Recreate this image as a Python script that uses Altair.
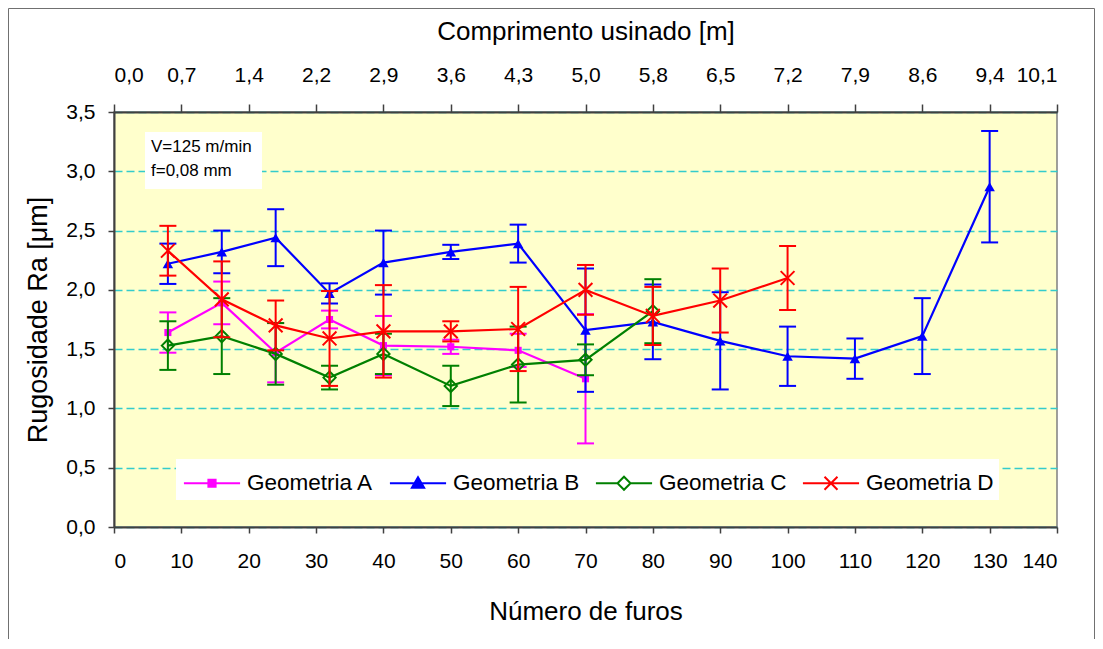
import altair as alt
import pandas as pd

# ---------------- data ----------------
series_names = ["Geometria A", "Geometria B", "Geometria C", "Geometria D"]
colors = ["#FF00FF", "#0000FF", "#008000", "#FF0000"]

furos_A = [8, 16, 24, 32, 40, 50, 60, 70]
ra_A = [1.64, 1.89, 1.47, 1.75, 1.53, 1.52, 1.49, 1.25]
sd_A = [0.17, 0.18, 0.25, 0.075, 0.25, 0.06, 0.14, 0.545]

furos_B = [8, 16, 24, 32, 40, 50, 60, 70, 80, 90, 100, 110, 120, 130]
ra_B = [2.22, 2.32, 2.44, 1.97, 2.23, 2.32, 2.39, 1.66, 1.73, 1.57, 1.44, 1.42, 1.61, 2.87]
sd_B = [0.17, 0.18, 0.24, 0.085, 0.27, 0.06, 0.16, 0.52, 0.315, 0.41, 0.25, 0.17, 0.32, 0.47]

furos_C = [8, 16, 24, 32, 40, 50, 60, 70, 80]
ra_C = [1.53, 1.61, 1.46, 1.26, 1.46, 1.19, 1.37, 1.41, 1.82]
sd_C = [0.205, 0.32, 0.26, 0.10, 0.17, 0.17, 0.32, 0.13, 0.27]

furos_D = [8, 16, 24, 32, 40, 50, 60, 70, 80, 90, 100]
ra_D = [2.33, 1.92, 1.70, 1.59, 1.65, 1.65, 1.67, 2.00, 1.78, 1.91, 2.10]
sd_D = [0.21, 0.32, 0.21, 0.40, 0.39, 0.085, 0.355, 0.21, 0.245, 0.27, 0.27]

x_ticks = [0, 10, 20, 30, 40, 50, 60, 70, 80, 90, 100, 110, 120, 130, 140]
y_ticks = [0.0, 0.5, 1.0, 1.5, 2.0, 2.5, 3.0, 3.5]
top_labels = ["0,0", "0,7", "1,4", "2,2", "2,9", "3,6", "4,3", "5,0",
              "5,8", "6,5", "7,2", "7,9", "8,6", "9,4", "10,1"]
notes = ["V=125 m/min", "f=0,08 mm"]

# ---------------- table ----------------
rows = []
for name, xs, ys, sds in zip(series_names,
                             [furos_A, furos_B, furos_C, furos_D],
                             [ra_A, ra_B, ra_C, ra_D],
                             [sd_A, sd_B, sd_C, sd_D]):
    for xv, yv, sv in zip(xs, ys, sds):
        rows.append({"serie": name, "furos": xv, "ra": yv, "sd": sv})
df = pd.DataFrame(rows)

# ---------------- styles ----------------
W, H = 943, 415
FONT = "Liberation Sans"
AXIS_COLOR = "#404040"

marker_styles = {
    "Geometria A": dict(shape="square", size=50, filled=True),
    "Geometria B": dict(shape="triangle-up", size=110, filled=True),
    "Geometria C": dict(shape="diamond", size=150, filled=False),
    "Geometria D": dict(shape="M-1,-1L1,1M-1,1L1,-1", size=190, filled=False),
}
# legend glyphs: a line segment with the marker (unit = 18 px for symbolSize 1296)
legend_paths = [
    "M-1.56,0L1.56,0M-0.2,-0.2L0.2,-0.2L0.2,0.2L-0.2,0.2Z",
    "M-1.56,0L1.56,0M0,-0.34L0.34,0.25L-0.34,0.25Z",
    "M-1.56,0L-0.36,0M0.36,0L1.56,0M-0.36,0L0,-0.36L0.36,0L0,0.36Z",
    "M-1.56,0L1.56,0M-0.36,-0.36L0.36,0.36M-0.36,0.36L0.36,-0.36",
]
legend_fills = ["#FF00FF", "#0000FF", "white", "#FF0000"]

x_scale = alt.Scale(domain=[0, 140], nice=False, zero=False)
y_scale = alt.Scale(domain=[0, 3.5], nice=False, zero=False)

top_expr = "[" + ",".join("'%s'" % s for s in top_labels) + "][round(datum.value/10)]"

bottom_axis = alt.Axis(orient="bottom", values=x_ticks, format="d", title="Número de furos",
                       tickSize=6, labelPadding=17, titlePadding=27, grid=False)
top_axis = alt.Axis(orient="top", values=x_ticks, labelExpr=top_expr,
                    title="Comprimento usinado [m]", tickSize=8, labelPadding=19,
                    titlePadding=20, grid=False)
left_axis = alt.Axis(orient="left", values=y_ticks,
                     labelExpr="replace(format(datum.value, '.1f'), '.', ',')",
                     title="Rugosidade Ra [μm]", tickSize=6, labelPadding=13, titlePadding=13,
                     titleFontSize=27,
                     grid=True, gridColor="#33CCCC", gridDash=[8, 4], gridWidth=1.3)

base = alt.Chart(df).transform_calculate(lo="datum.ra - datum.sd", hi="datum.ra + datum.sd")

layers = []

# axes layer: invisible points carrying the bottom, left and top axes
axes_layer = alt.Chart(df).mark_point(opacity=0).encode(
    x=alt.X("furos:Q", scale=x_scale, axis=bottom_axis),
    y=alt.Y("ra:Q", scale=y_scale, axis=left_axis))
top_layer = alt.Chart(df).mark_point(opacity=0).encode(
    x=alt.X("furos:Q", scale=x_scale, axis=top_axis),
    y=alt.Y("ra:Q", scale=y_scale, axis=None))
layers += [axes_layer, top_layer]

# decoration: outer frame and note box
deco = alt.Chart(pd.DataFrame({"k": [0]}))
layers.append(deco.mark_rect(fill=None, stroke="#707070", strokeWidth=1).encode(
    x=alt.value(-105.5), x2=alt.value(980.5), y=alt.value(-103.5), y2=alt.value(H + 140)))
layers.append(deco.mark_rect(fill="white").encode(
    x=alt.value(31), x2=alt.value(148), y=alt.value(20), y2=alt.value(77)))
layers.append(deco.mark_text(text=notes, align="left", baseline="alphabetic", font=FONT,
                             fontSize=17, lineHeight=24, color="black").encode(
    x=alt.value(37), y=alt.value(40)))

for name, col in zip(series_names, colors):
    sub = base.transform_filter(alt.datum.serie == name)
    st = marker_styles[name]
    rule = sub.mark_rule(color=col, strokeWidth=2).encode(
        x=alt.X("furos:Q", scale=x_scale, axis=None),
        y=alt.Y("lo:Q", scale=y_scale, axis=None),
        y2="hi:Q")
    caps = sub.transform_fold(["lo", "hi"], as_=["k", "v"]).mark_tick(
        color=col, orient="horizontal", size=17, thickness=2, opacity=1).encode(
        x=alt.X("furos:Q", scale=x_scale, axis=None),
        y=alt.Y("v:Q", scale=y_scale, axis=None))
    line = sub.mark_line(color=col, strokeWidth=2.2).encode(
        x=alt.X("furos:Q", scale=x_scale, axis=None),
        y=alt.Y("ra:Q", scale=y_scale, axis=None),
        order="furos:Q")
    pts = sub.mark_point(shape=st["shape"], size=st["size"], filled=st["filled"],
                         color=col, strokeWidth=2, opacity=1).encode(
        x=alt.X("furos:Q", scale=x_scale, axis=None),
        y=alt.Y("ra:Q", scale=y_scale, axis=None))
    layers += [rule, caps, line, pts]

# legend layer (no visible marks, only the legend)
leg = alt.Legend(orient="none", legendX=62, legendY=347, direction="horizontal", title=None,
                 labelFont=FONT, labelFontSize=22.5, labelColor="black", symbolSize=1296,
                 symbolStrokeWidth=2, fillColor="white", padding=5, columnPadding=11,
                 symbolOffset=12, labelOffset=16)
legend_layer = alt.Chart(df).transform_filter("datum.furos < 0").mark_point(
    strokeWidth=2, opacity=1).encode(
    x=alt.X("furos:Q", scale=x_scale, axis=None),
    y=alt.Y("ra:Q", scale=y_scale, axis=None),
    fill=alt.Fill("serie:N", scale=alt.Scale(domain=series_names, range=legend_fills), legend=leg),
    stroke=alt.Stroke("serie:N", scale=alt.Scale(domain=series_names, range=colors), legend=leg),
    shape=alt.Shape("serie:N", scale=alt.Scale(domain=series_names, range=legend_paths), legend=leg),
)
layers.append(legend_layer)

chart = alt.layer(*layers).resolve_axis(x="independent", y="independent").properties(
    width=W, height=H,
    background="white",
    autosize=alt.AutoSizeParams(type="none"),
    padding={"left": 106, "top": 104, "right": 38, "bottom": 112},
).configure_view(
    fill="#FFFFCC", stroke="#808080", strokeWidth=1.5
).configure_axis(
    labelFont=FONT, titleFont=FONT, labelFontSize=21, titleFontSize=26,
    titleFontWeight="normal", labelColor="black", titleColor="black",
    domainColor=AXIS_COLOR, domainWidth=2, tickColor=AXIS_COLOR, tickWidth=1.5,
)

chart.save("out.html", embed_options={"renderer": "svg", "actions": False})
